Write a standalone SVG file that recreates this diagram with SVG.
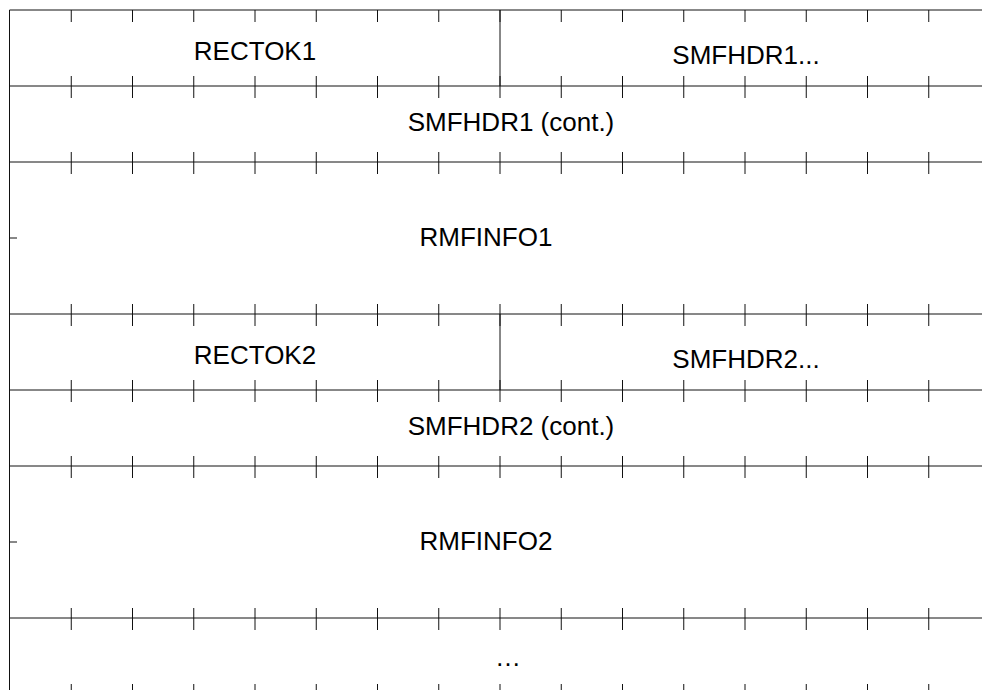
<svg xmlns="http://www.w3.org/2000/svg" xmlns:xlink="http://www.w3.org/1999/xlink" width="982" height="690" viewBox="0 0 982 690">
<style>
.ln{stroke:#111;stroke-width:1;fill:none}
.lbl{font-family:"Liberation Sans",Arial,sans-serif;font-size:26px;fill:#000;text-anchor:middle}
</style>
<defs>
<path id="tickFull" class="ln" d="M71.25 -10v22M132.5 -10v22M193.75 -10v22M255 -10v22M316.25 -10v22M377.5 -10v22M438.75 -10v22M500 -10v22M561.25 -10v22M622.5 -10v22M683.75 -10v22M745 -10v22M806.25 -10v22M867.5 -10v22M928.75 -10v22"/>
<path id="tickDown" class="ln" d="M71.25 0v12M132.5 0v12M193.75 0v12M255 0v12M316.25 0v12M377.5 0v12M438.75 0v12M500 0v12M561.25 0v12M622.5 0v12M683.75 0v12M745 0v12M806.25 0v12M867.5 0v12M928.75 0v12"/>
</defs>
<rect width="982" height="690" fill="#fff"/>
<g id="grid">
<path class="ln" d="M9.5 10V690M9.5 10H982M9.5 86H982M9.5 162H982M9.5 314H982M9.5 390H982M9.5 466H982M9.5 618H982"/>
<use xlink:href="#tickDown" y="10"/>
<use xlink:href="#tickFull" y="86"/>
<use xlink:href="#tickFull" y="162"/>
<use xlink:href="#tickFull" y="314"/>
<use xlink:href="#tickFull" y="390"/>
<use xlink:href="#tickFull" y="466"/>
<use xlink:href="#tickFull" y="618"/>
<use xlink:href="#tickFull" y="694"/>
<path class="ln" d="M9.5 238H17M9.5 542H17"/>
</g>
<g id="connectors"></g>
<g id="rectok1"><text class="lbl" x="255" y="60">RECTOK1</text></g>
<g id="smfhdr1"><path class="ln" d="M500 10V86"/><text class="lbl" x="746" y="64">SMFHDR1...</text></g>
<g id="smfhdr1cont"><text class="lbl" x="511" y="131">SMFHDR1 (cont.)</text></g>
<g id="rmfinfo1"><text class="lbl" x="486" y="246">RMFINFO1</text></g>
<g id="rectok2"><text class="lbl" x="255" y="364">RECTOK2</text></g>
<g id="smfhdr2"><path class="ln" d="M500 314V390"/><text class="lbl" x="746" y="368">SMFHDR2...</text></g>
<g id="smfhdr2cont"><text class="lbl" x="511" y="435">SMFHDR2 (cont.)</text></g>
<g id="rmfinfo2"><text class="lbl" x="486" y="550">RMFINFO2</text></g>
<g id="more"><text class="lbl" x="508" y="666">…</text></g>
</svg>
